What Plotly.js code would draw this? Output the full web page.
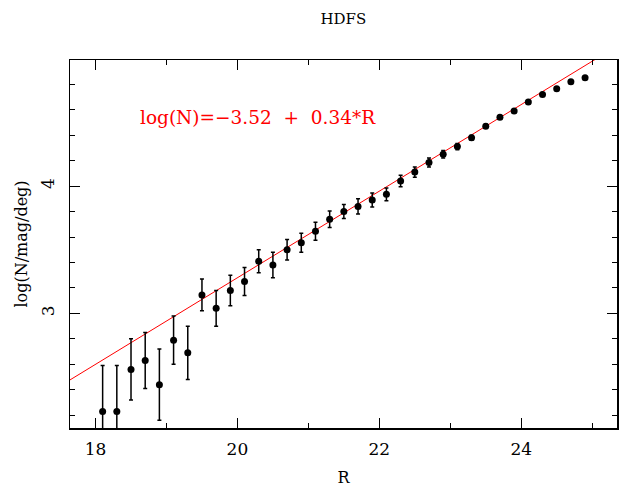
<!DOCTYPE html>
<html>
<head>
<meta charset="utf-8">
<script src="https://cdn.plot.ly/plotly-3.0.1.min.js"></script>
<style>html,body{margin:0;padding:0;background:#fff;}#chart{width:621px;height:487px;}</style>
</head>
<body>
<div id="chart"></div>
<script>
const magR = [18.1,18.3,18.5,18.7,18.9,19.1,19.3,19.5,19.7,19.9,20.1,20.3,20.5,20.7,20.9,21.1,21.3,21.5,21.7,21.9,22.1,22.3,22.5,22.7,22.9,23.1,23.3,23.5,23.7,23.9,24.1,24.3,24.5,24.7,24.9];
const logN = [2.23,2.23,2.56,2.63,2.44,2.79,2.69,3.145,3.04,3.18,3.25,3.41,3.38,3.50,3.555,3.645,3.74,3.80,3.84,3.89,3.935,4.04,4.11,4.185,4.25,4.31,4.38,4.47,4.54,4.59,4.66,4.72,4.765,4.82,4.85];
const logNErr = [0.36,0.36,0.24,0.22,0.28,0.19,0.21,0.125,0.14,0.12,0.11,0.09,0.10,0.08,0.075,0.07,0.065,0.055,0.06,0.055,0.05,0.045,0.04,0.035,0.03,0.025,0.02,0.015,0.012,0.01,0.01,0.008,0.007,0.006,0.005];
const fitCoef = [-3.52, 0.34];
const fitRange = [17.5, 25.2];
const fitX = fitRange;
const fitY = fitX.map(r => fitCoef[0] + fitCoef[1]*r);

const FONT = "DejaVu Serif, serif";
const traces = [
  {x: fitX, y: fitY, mode: 'lines', line: {color: '#ff0000', width: 1}, hoverinfo: 'skip'},
  {x: magR, y: logN, mode: 'markers', marker: {color: '#000', size: 7},
   error_y: {type: 'data', array: logNErr, visible: true, color: '#000', thickness: 1.5, width: 2}}
];
const axisCommon = {
  showgrid: false, zeroline: false, showline: true, linecolor: '#000', linewidth: 1.5,
  mirror: 'allticks', ticks: 'inside', tickcolor: '#000', tickwidth: 1, ticklen: 10,
  tickfont: {family: FONT, size: 17, color: '#000'}
};
const layout = {
  width: 621, height: 487,
  margin: {l: 70, r: 4, t: 60, b: 59},
  paper_bgcolor: '#fff', plot_bgcolor: '#fff',
  showlegend: false,
  title: {text: 'HDFS', font: {family: FONT, size: 15, color: '#000'}, x: 0.553, xanchor: 'center', y: 0.961, yanchor: 'middle'},
  xaxis: Object.assign({}, axisCommon, {
    range: [17.64, 25.35], tickmode: 'linear', tick0: 18, dtick: 2,
    minor: {dtick: 1, tick0: 18, ticks: 'inside', ticklen: 5, tickcolor: '#000', tickwidth: 1},
    ticklabelstandoff: 5,
    title: {text: 'R', font: {family: FONT, size: 16, color: '#000'}, standoff: 21}
  }),
  yaxis: Object.assign({}, axisCommon, {
    range: [2.10, 4.99], tickmode: 'linear', tick0: 3, dtick: 1, tickangle: -90,
    minor: {dtick: 0.2, tick0: 3, ticks: 'inside', ticklen: 5, tickcolor: '#000', tickwidth: 1},
    ticklabelstandoff: 8,
    title: {text: 'log(N/mag/deg)', font: {family: FONT, size: 16, color: '#000'}, standoff: 6}
  }),
  annotations: [{
    text: 'log(N)=\u22123.52  +  0.34*R', xref: 'paper', yref: 'paper', x: 0.125, y: 0.845,
    xanchor: 'left', yanchor: 'middle', showarrow: false,
    font: {family: FONT, size: 18.5, color: '#ff0000'}
  }]
};
Plotly.newPlot('chart', traces, layout, {staticPlot: true});
</script>
</body>
</html>
